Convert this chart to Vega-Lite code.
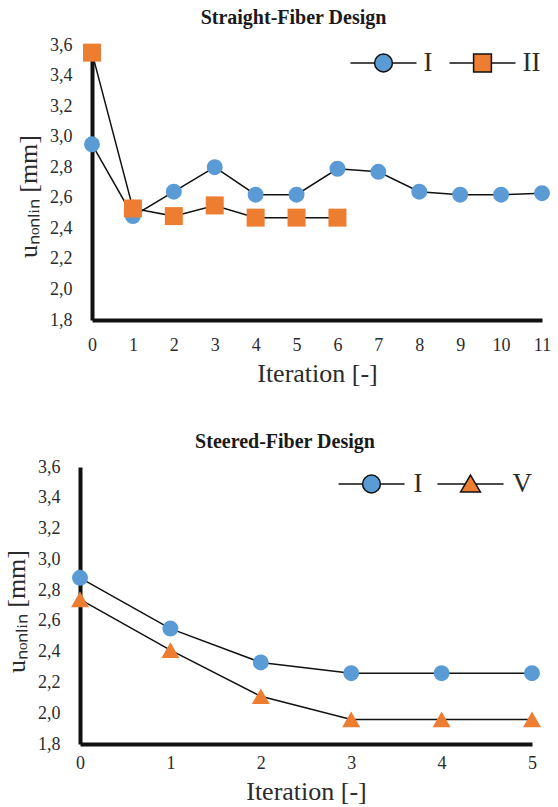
{
  "$schema": "https://vega.github.io/schema/vega-lite/v6.json",
  "background": "white",
  "padding": {"left": 3, "top": 8, "right": 5, "bottom": 0},
  "config": {
    "font": "Liberation Serif",
    "view": {"stroke": null},
    "axis": {
      "domainColor": "#111111",
      "domainWidth": 4,
      "ticks": false,
      "grid": false,
      "labelFont": "Liberation Serif",
      "labelFontSize": 18,
      "labelColor": "#2b2b2b",
      "titleFont": "Liberation Serif",
      "titleFontWeight": "normal",
      "titleFontSize": 26,
      "titleColor": "#2b2b2b"
    },
    "legend": {"labelFont": "Liberation Serif"},
    "title": {"font": "Liberation Serif", "fontSize": 20, "fontWeight": "bold", "color": "#1a1a1a"}
  },
  "resolve": {
    "scale": {"color": "independent", "x": "independent", "y": "independent"},
    "legend": {"color": "independent"}
  },
  "spacing": 46,
  "vconcat": [
    {
      "width": 462,
      "height": 275,
      "title": {"text": "Straight-Fiber Design", "offset": 1, "dx": -17.5},
      "data": {
        "values": [
          {"series": "I", "iteration": 0, "u": 2.95},
          {"series": "I", "iteration": 1, "u": 2.48},
          {"series": "I", "iteration": 2, "u": 2.64},
          {"series": "I", "iteration": 3, "u": 2.80},
          {"series": "I", "iteration": 4, "u": 2.62},
          {"series": "I", "iteration": 5, "u": 2.62},
          {"series": "I", "iteration": 6, "u": 2.79},
          {"series": "I", "iteration": 7, "u": 2.77},
          {"series": "I", "iteration": 8, "u": 2.64},
          {"series": "I", "iteration": 9, "u": 2.62},
          {"series": "I", "iteration": 10, "u": 2.62},
          {"series": "I", "iteration": 11, "u": 2.63},
          {"series": "II", "iteration": 0, "u": 3.55},
          {"series": "II", "iteration": 1, "u": 2.53},
          {"series": "II", "iteration": 2, "u": 2.48},
          {"series": "II", "iteration": 3, "u": 2.55},
          {"series": "II", "iteration": 4, "u": 2.47},
          {"series": "II", "iteration": 5, "u": 2.47},
          {"series": "II", "iteration": 6, "u": 2.47}
        ]
      },
      "encoding": {
        "x": {
          "field": "iteration",
          "type": "quantitative",
          "scale": {"domain": [0, 11], "range": [12, 462], "nice": false, "zero": false},
          "axis": {"title": "Iteration [-]", "values": [0,1,2,3,4,5,6,7,8,9,10,11], "labelPadding": 16, "titlePadding": 6, "labelFlush": false, "labelFont": "Liberation Serif", "titleFont": "Liberation Serif"}
        },
        "y": {
          "field": "u",
          "type": "quantitative",
          "scale": {"domain": [1.8, 3.6], "nice": false, "zero": false},
          "axis": {
            "title": "uₙₒₙₗᵢₙ [mm]",
            "offset": -12,
            "values": [1.8, 2.0, 2.2, 2.4, 2.6, 2.8, 3.0, 3.2, 3.4, 3.6],
            "labelExpr": "replace(format(datum.value, '.1f'), '.', ',')",
            "labelPadding": 20,
            "labelFlush": false,
            "labelFont": "Liberation Serif",
            "titleFont": "Liberation Serif",
            "titlePadding": 8,
            "titleY": 151
          }
        }
      },
      "layer": [
        {
          "mark": {"type": "line", "color": "#111111", "strokeWidth": 1.5},
          "encoding": {"detail": {"field": "series"}}
        },
        {
          "transform": [{"filter": "datum.series === 'I'"}],
          "mark": {"type": "point", "filled": true, "opacity": 1, "shape": "circle", "size": 254},
          "encoding": {
            "color": {
              "field": "series",
              "type": "nominal",
              "scale": {"domain": ["I", "II"], "range": ["#5B9BD5", "#ED7D31"]},
              "legend": {
                "orient": "none",
                "legendX": 269.5,
                "legendY": -16,
                "direction": "horizontal",
                "title": null,
                "padding": 0,
                "symbolSize": 4356,
                "labelFont": "Liberation Serif",
                "labelFontSize": 27,
                "labelColor": "#2b2b2b",
                "labelOffset": 6,
                "columnPadding": 14,
                "encoding": {
                  "symbols": {
                    "shape": {
                      "condition": {"test": "datum.value === 'II'", "value": "M-1,0H-0.27M0.27,0H1M-0.27,-0.27H0.27V0.27H-0.27Z"},
                      "value": "M-1,0H-0.27M0.27,0H1M0.27,0A0.27,0.27,0,1,1,-0.27,0A0.27,0.27,0,1,1,0.27,0Z"
                    },
                    "stroke": {"value": "#111111"},
                    "strokeWidth": {"value": 1.5}
                  }
                }
              }
            }
          }
        },
        {
          "transform": [{"filter": "datum.series === 'II'"}],
          "mark": {"type": "point", "filled": true, "opacity": 1, "shape": "square", "size": 324},
          "encoding": {
            "color": {
              "field": "series",
              "type": "nominal",
              "scale": {"domain": ["I", "II"], "range": ["#5B9BD5", "#ED7D31"]},
              "legend": {
                "orient": "none",
                "legendX": 269.5,
                "legendY": -16,
                "direction": "horizontal",
                "title": null,
                "padding": 0,
                "symbolSize": 4356,
                "labelFont": "Liberation Serif",
                "labelFontSize": 27,
                "labelColor": "#2b2b2b",
                "labelOffset": 6,
                "columnPadding": 14,
                "encoding": {
                  "symbols": {
                    "shape": {
                      "condition": {"test": "datum.value === 'II'", "value": "M-1,0H-0.27M0.27,0H1M-0.27,-0.27H0.27V0.27H-0.27Z"},
                      "value": "M-1,0H-0.27M0.27,0H1M0.27,0A0.27,0.27,0,1,1,-0.27,0A0.27,0.27,0,1,1,0.27,0Z"
                    },
                    "stroke": {"value": "#111111"},
                    "strokeWidth": {"value": 1.5}
                  }
                }
              }
            }
          }
        }
      ]
    },
    {
      "width": 452,
      "height": 277,
      "title": {"text": "Steered-Fiber Design", "offset": -2, "dx": -21},
      "data": {
        "values": [
          {"series": "I", "iteration": 0, "u": 2.88},
          {"series": "I", "iteration": 1, "u": 2.55},
          {"series": "I", "iteration": 2, "u": 2.33},
          {"series": "I", "iteration": 3, "u": 2.26},
          {"series": "I", "iteration": 4, "u": 2.26},
          {"series": "I", "iteration": 5, "u": 2.26},
          {"series": "V", "iteration": 0, "u": 2.74},
          {"series": "V", "iteration": 1, "u": 2.41},
          {"series": "V", "iteration": 2, "u": 2.11},
          {"series": "V", "iteration": 3, "u": 1.96},
          {"series": "V", "iteration": 4, "u": 1.96},
          {"series": "V", "iteration": 5, "u": 1.96}
        ]
      },
      "encoding": {
        "x": {
          "field": "iteration",
          "type": "quantitative",
          "scale": {"domain": [0, 5], "nice": false, "zero": false},
          "axis": {"title": "Iteration [-]", "values": [0,1,2,3,4,5], "labelPadding": 10, "titlePadding": 6, "labelFlush": false, "labelFont": "Liberation Serif", "titleFont": "Liberation Serif"}
        },
        "y": {
          "field": "u",
          "type": "quantitative",
          "scale": {"domain": [1.8, 3.6], "nice": false, "zero": false},
          "axis": {
            "title": "uₙₒₙₗᵢₙ [mm]",
            "values": [1.8, 2.0, 2.2, 2.4, 2.6, 2.8, 3.0, 3.2, 3.4, 3.6],
            "labelExpr": "replace(format(datum.value, '.1f'), '.', ',')",
            "labelPadding": 20,
            "labelFlush": false,
            "labelFont": "Liberation Serif",
            "titleFont": "Liberation Serif",
            "titlePadding": 8,
            "titleY": 144
          }
        }
      },
      "layer": [
        {
          "mark": {"type": "line", "color": "#111111", "strokeWidth": 1.5},
          "encoding": {"detail": {"field": "series"}}
        },
        {
          "transform": [{"filter": "datum.series === 'I'"}],
          "mark": {"type": "point", "filled": true, "opacity": 1, "shape": "circle", "size": 254},
          "encoding": {
            "color": {
              "field": "series",
              "type": "nominal",
              "scale": {"domain": ["I", "V"], "range": ["#5B9BD5", "#ED7D31"]},
              "legend": {
                "orient": "none",
                "legendX": 257.5,
                "legendY": -17,
                "direction": "horizontal",
                "title": null,
                "padding": 0,
                "symbolSize": 4356,
                "labelFont": "Liberation Serif",
                "labelFontSize": 27,
                "labelColor": "#2b2b2b",
                "labelOffset": 8,
                "columnPadding": 12,
                "encoding": {
                  "symbols": {
                    "shape": {
                      "condition": {"test": "datum.value === 'V'", "value": "M-1,0H-0.16M0.16,0H1M0,-0.27L0.3,0.24H-0.3Z"},
                      "value": "M-1,0H-0.27M0.27,0H1M0.27,0A0.27,0.27,0,1,1,-0.27,0A0.27,0.27,0,1,1,0.27,0Z"
                    },
                    "stroke": {"value": "#111111"},
                    "strokeWidth": {"value": 1.5}
                  }
                }
              }
            }
          }
        },
        {
          "transform": [{"filter": "datum.series === 'V'"}],
          "mark": {"type": "point", "filled": true, "opacity": 1, "shape": "triangle-up", "size": 324},
          "encoding": {
            "color": {
              "field": "series",
              "type": "nominal",
              "scale": {"domain": ["I", "V"], "range": ["#5B9BD5", "#ED7D31"]},
              "legend": {
                "orient": "none",
                "legendX": 257.5,
                "legendY": -17,
                "direction": "horizontal",
                "title": null,
                "padding": 0,
                "symbolSize": 4356,
                "labelFont": "Liberation Serif",
                "labelFontSize": 27,
                "labelColor": "#2b2b2b",
                "labelOffset": 8,
                "columnPadding": 12,
                "encoding": {
                  "symbols": {
                    "shape": {
                      "condition": {"test": "datum.value === 'V'", "value": "M-1,0H-0.16M0.16,0H1M0,-0.27L0.3,0.24H-0.3Z"},
                      "value": "M-1,0H-0.27M0.27,0H1M0.27,0A0.27,0.27,0,1,1,-0.27,0A0.27,0.27,0,1,1,0.27,0Z"
                    },
                    "stroke": {"value": "#111111"},
                    "strokeWidth": {"value": 1.5}
                  }
                }
              }
            }
          }
        }
      ]
    }
  ]
}
